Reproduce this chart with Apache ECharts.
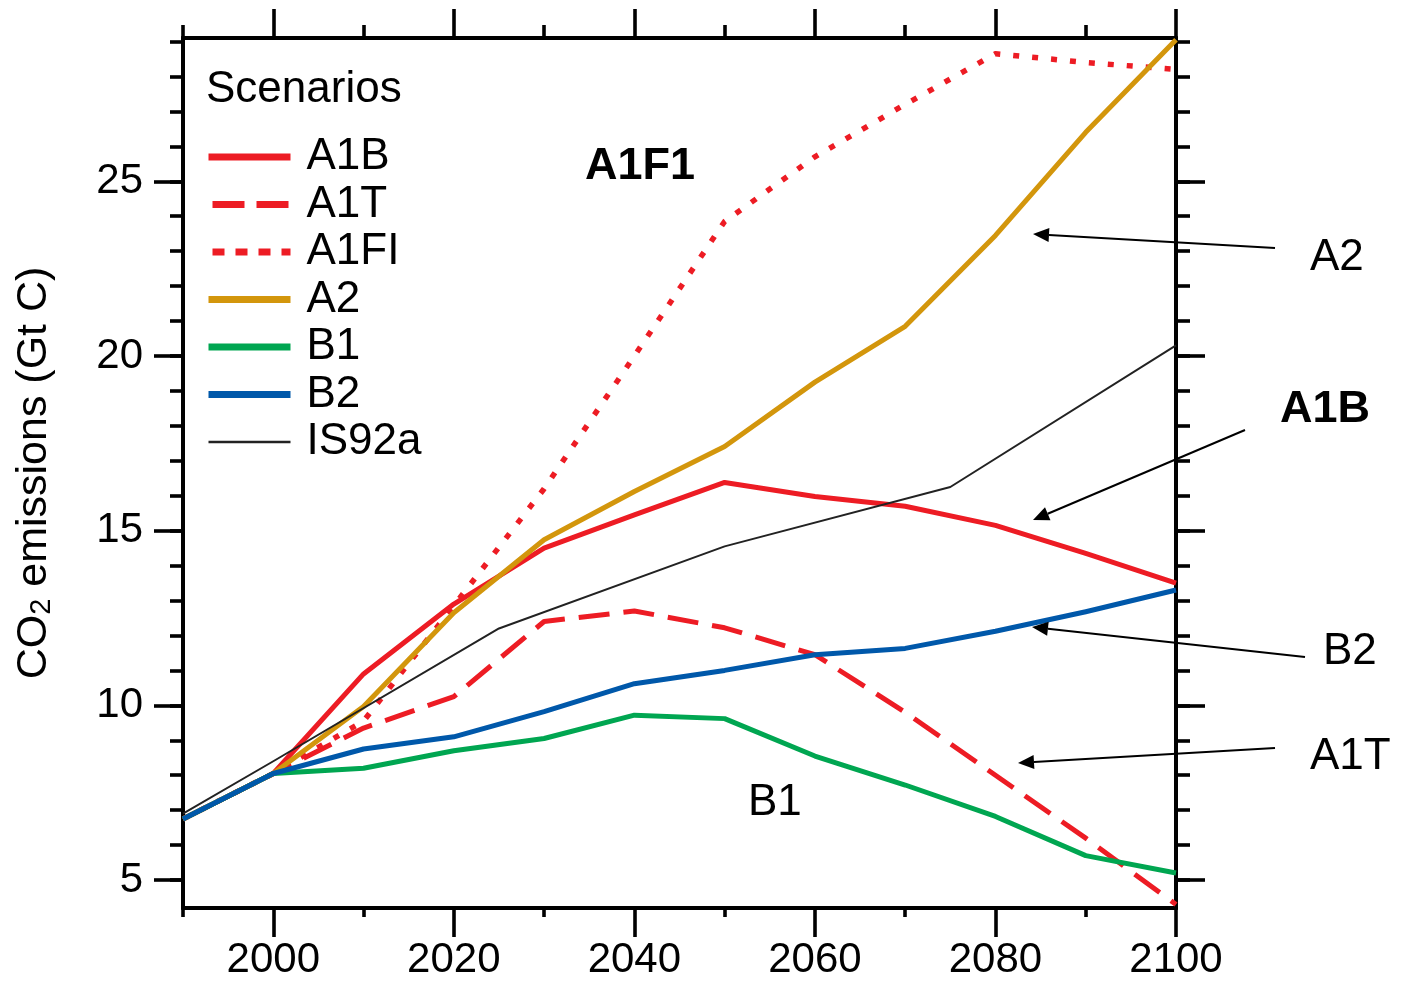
<!DOCTYPE html>
<html><head><meta charset="utf-8">
<script src="https://cdn.jsdelivr.net/npm/echarts@6/dist/echarts.min.js"></script>
<style>html,body{margin:0;padding:0;background:#fff}#c{width:1405px;height:981px}</style>
</head><body><div id="c"></div>
<script>
// ---- data ----
const years = [1990, 2000, 2010, 2020, 2030, 2040, 2050, 2060, 2070, 2080, 2090, 2100];
const a1b  = [6.75, 8.05, 10.9, 12.9, 14.5, 15.45, 16.38, 15.98, 15.7, 15.15, 14.35, 13.5];
const a1t  = [6.75, 8.05, 9.35, 10.25, 12.4, 12.7, 12.22, 11.45, 9.8, 8.0, 6.2, 4.3];
const a1fi = [6.75, 8.05, 9.55, 12.85, 16.2, 20.0, 23.85, 25.7, 27.2, 28.65, 28.4, 28.2];
const a2   = [6.75, 8.05, 9.97, 12.65, 14.74, 16.12, 17.41, 19.25, 20.85, 23.45, 26.4, 29.05];
const b1   = [6.75, 8.05, 8.2, 8.7, 9.05, 9.72, 9.62, 8.55, 7.72, 6.82, 5.7, 5.2];
const b2   = [6.75, 8.05, 8.75, 9.1, 9.82, 10.62, 11.0, 11.45, 11.63, 12.12, 12.68, 13.3];
const is92aYears = [1990, 2000, 2025, 2050, 2075, 2100];
const is92a      = [6.9, 8.4, 12.2, 14.55, 16.25, 20.3];

const xMajorTicks = [2000, 2020, 2040, 2060, 2080, 2100];
const xMinorTicks = [1990, 2010, 2030, 2050, 2070, 2090];
const yMajorTicks = [5, 10, 15, 20, 25];
const yMinorTicks = [5, 6, 7, 8, 9, 10, 11, 12, 13, 14, 15, 16, 17, 18, 19, 20, 21, 22, 23, 24, 25, 26, 27, 28, 29];

const seriesNames = ['A1B', 'A1T', 'A1FI', 'A2', 'B1', 'B2', 'IS92a'];
const annotations = [
  {text: 'A1F1', bold: true}, {text: 'A2'}, {text: 'A1B', bold: true},
  {text: 'B2'}, {text: 'A1T'}, {text: 'B1'}
];

// ---- styling / layout ----
const FONT = '"Liberation Sans", Arial, Helvetica, sans-serif';
const RED = '#ED1C24', GOLD = '#D3960C', GREEN = '#00A651', BLUE = '#0058AA', BLACK = '#222222';
const X_MIN = 1990, X_MAX = 2100, Y_MIN = 4.2, Y_MAX = 29.1;

function pairs(xs, vs) { return xs.map((x, i) => [x, vs[i]]); }
function mk(name, xs, vs, color, width, type) {
  return {
    name, type: 'line', data: pairs(xs, vs), symbol: 'none', showSymbol: false,
    lineStyle: {color, width, type: type || 'solid', cap: 'butt', join: 'round'},
    itemStyle: {color}, silent: true, animation: false, z: 3
  };
}

function xAx(pos, ticks, len, showLabel) {
  return {
    type: 'value', position: pos, min: X_MIN, max: X_MAX, gridIndex: 0,
    axisLine: {show: true, onZero: false, lineStyle: {color: '#000', width: 4}},
    axisTick: {show: true, customValues: ticks, length: len, inside: false, lineStyle: {color: '#000', width: 3.6}},
    axisLabel: showLabel ? {show: true, customValues: ticks, formatter: v => String(v), fontSize: 42, fontFamily: FONT, color: '#000', margin: 31}
                         : {show: false},
    splitLine: {show: false}
  };
}
function yAx(pos, ticks, len, showLabel, withName) {
  const o = {
    type: 'value', position: pos, min: Y_MIN, max: Y_MAX, gridIndex: 0,
    axisLine: {show: true, onZero: false, lineStyle: {color: '#000', width: 4}},
    axisTick: {show: true, customValues: ticks, length: len, inside: false, lineStyle: {color: '#000', width: 3.6}},
    axisLabel: showLabel ? {show: true, customValues: ticks, fontSize: 42, fontFamily: FONT, color: '#000', margin: 40}
                         : {show: false},
    splitLine: {show: false}
  };
  if (withName) {
    o.name = '{a|CO}{s|2}{a| emissions (Gt C)}';
    o.nameLocation = 'middle';
    o.nameRotate = 90;
    o.nameGap = 127;
    o.nameTextStyle = {
      color: '#000', fontFamily: FONT,
      rich: {
        a: {fontSize: 43, fontFamily: FONT, color: '#000', lineHeight: 43},
        s: {fontSize: 29, fontFamily: FONT, color: '#000', lineHeight: 12, verticalAlign: 'bottom'}
      }
    };
  }
  return o;
}

const chart = echarts.init(document.getElementById('c'), null, {renderer: 'canvas'});
const option = {
  animation: false,
  backgroundColor: '#ffffff',
  grid: {left: 183, right: 229, top: 38, bottom: 73, containLabel: false},
  xAxis: [
    xAx('bottom', xMajorTicks, 29, true),
    xAx('bottom', xMinorTicks, 9, false),
    xAx('top', xMajorTicks, 29, false),
    xAx('top', xMinorTicks, 13, false)
  ],
  yAxis: [
    yAx('left', yMajorTicks, 29, true, true),
    yAx('left', yMinorTicks, 13, false, false),
    yAx('right', yMajorTicks, 29, false, false),
    yAx('right', yMinorTicks, 14, false, false)
  ],
  legend: {
    orient: 'vertical', left: 205, top: 135, padding: 0,
    itemWidth: 82, itemHeight: 14, itemGap: 3.5, selectedMode: false,
    textStyle: {fontSize: 44, fontFamily: FONT, color: '#000', lineHeight: 44, padding: [0, 0, 0, 11]},
    itemStyle: {opacity: 0},
    data: [
      {name: seriesNames[0], lineStyle: {width: 7}},
      {name: seriesNames[1], lineStyle: {width: 7, type: [32, 12], dashOffset: -4}},
      {name: seriesNames[2], lineStyle: {width: 7, type: [12, 11]}},
      {name: seriesNames[3], lineStyle: {width: 7}},
      {name: seriesNames[4], lineStyle: {width: 7}},
      {name: seriesNames[5], lineStyle: {width: 7}},
      {name: seriesNames[6], lineStyle: {width: 2.5}}
    ]
  },
  series: [
    mk(seriesNames[0], years, a1b, RED, 5),
    mk(seriesNames[1], years, a1t, RED, 5, [31, 14]),
    mk(seriesNames[2], years, a1fi, RED, 5.5, [6, 13]),
    mk(seriesNames[3], years, a2, GOLD, 5),
    mk(seriesNames[4], years, b1, GREEN, 5),
    mk(seriesNames[5], years, b2, BLUE, 5),
    mk(seriesNames[6], is92aYears, is92a, BLACK, 2)
  ]
};
chart.setOption(option);

// ---- annotations (labels + arrows) ----
const labelPos = [[585, 167], [1310, 258], [1280, 410], [1323, 652], [1310, 757], [748, 803]];
const arrowDefs = [
  [1275, 248, 1033, 234],
  [1245, 430, 1033, 520],
  [1305, 657, 1032, 627],
  [1275, 748, 1018, 763]
];
const g = [];
g.push({type: 'text', x: 206, y: 90, z: 10, silent: true,
  style: {text: 'Scenarios', fontSize: 44, fontFamily: FONT, fill: '#000', align: 'left', verticalAlign: 'middle'}});
annotations.forEach((a, i) => {
  g.push({type: 'text', x: labelPos[i][0], y: labelPos[i][1], z: 10, silent: true,
    style: {text: a.text, fontSize: a.bold ? 45 : 44, fontWeight: a.bold ? 'bold' : 'normal', fontFamily: FONT,
            fill: '#000', align: 'left', verticalAlign: 'middle'}});
});
arrowDefs.forEach(([x1, y1, x2, y2]) => {
  const dx = x2 - x1, dy = y2 - y1, L = Math.hypot(dx, dy);
  const ux = dx / L, uy = dy / L, hl = 16, hw = 7;
  const bx = x2 - ux * hl, by = y2 - uy * hl;
  g.push({type: 'line', z: 10, silent: true, shape: {x1, y1, x2: bx, y2: by}, style: {stroke: '#000', lineWidth: 2}});
  g.push({type: 'polygon', z: 10, silent: true,
    shape: {points: [[x2, y2], [bx - uy * hw, by + ux * hw], [bx + uy * hw, by - ux * hw]]},
    style: {fill: '#000'}});
});
chart.setOption({graphic: g});
</script>
</body></html>
